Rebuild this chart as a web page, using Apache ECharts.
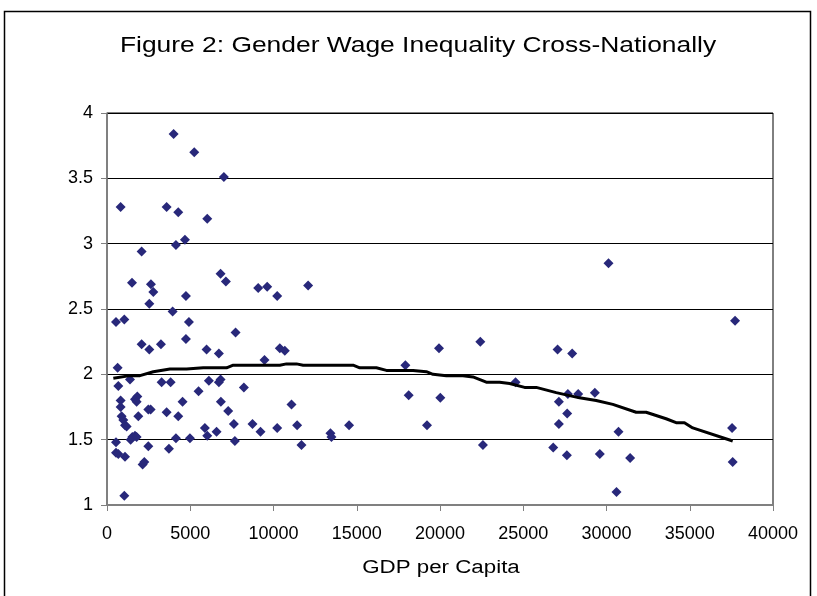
<!DOCTYPE html>
<html>
<head>
<meta charset="utf-8">
<script src="https://cdn.jsdelivr.net/npm/echarts@6/dist/echarts.min.js"></script>
<style>
  html, body { margin: 0; padding: 0; background: #fff; }
  #chart { width: 817px; height: 596px; }
</style>
</head>
<body>
<div id="chart"></div>
<script>
// GDP per capita and wage ratio per country
var gdp = [
  4000, 5240, 7020, 820, 3580, 4280, 6020, 2080, 4140, 4680,
  6820, 7140, 1500, 2640, 2780, 4740, 2540, 9080, 9620, 10220,
  3940, 540, 1040, 4920, 7720, 2080, 2540, 3240, 4740, 5980,
  6720, 9460, 10380, 10680, 640, 680, 1380, 3280, 3820, 5500,
  6120, 6720, 6820, 8220, 820, 820, 1680, 1820, 1780, 4540,
  6840, 7280, 2480, 2620, 3580, 4280, 880, 980, 1080, 1180,
  1880, 7620, 8740, 9220, 10220, 5880, 6020, 6580, 7680, 4980,
  4140, 1520, 1680, 1780, 1420, 2480, 3720, 540, 540, 680,
  1080, 2140, 2240, 1040, 12080, 11080, 11420, 11680, 13420, 13480,
  14540, 17920, 18120, 19220, 19940, 20020, 22420, 22580, 24540, 30120,
  27060, 27940, 37720, 27680, 28300, 29300, 27140, 27640, 27140, 30720,
  37540, 26800, 27620, 29600, 31420, 30600, 37580
];
var ratio = [
  3.84, 3.70, 3.51, 3.28, 3.28, 3.24, 3.19, 2.94, 2.99, 3.03,
  2.77, 2.71, 2.70, 2.69, 2.63, 2.60, 2.54, 2.66, 2.67, 2.60,
  2.48, 2.40, 2.42, 2.40, 2.32, 2.23, 2.19, 2.23, 2.27, 2.19,
  2.16, 2.11, 2.20, 2.18, 2.05, 1.91, 1.96, 1.94, 1.94, 1.87,
  1.95, 1.94, 1.96, 1.90, 1.80, 1.75, 1.81, 1.83, 1.79, 1.79,
  1.79, 1.72, 1.73, 1.73, 1.71, 1.68, 1.68, 1.65, 1.61, 1.60,
  1.68, 1.62, 1.62, 1.56, 1.59, 1.59, 1.53, 1.56, 1.49, 1.51,
  1.51, 1.52, 1.53, 1.52, 1.50, 1.45, 1.43, 1.48, 1.40, 1.39,
  1.37, 1.31, 1.33, 1.07, 2.68, 1.77, 1.61, 1.46, 1.55, 1.52,
  1.61, 2.07, 1.84, 1.61, 2.20, 1.82, 2.25, 1.46, 1.94, 2.85,
  2.19, 2.16, 2.41, 1.85, 1.85, 1.86, 1.79, 1.70, 1.62, 1.56,
  1.59, 1.44, 1.38, 1.39, 1.36, 1.10, 1.33
];

// moving-average trend line
var trendX = [
  380, 1380, 1980, 2780, 3780, 4780, 5780, 7180, 7580, 10380,
  10780, 11380, 11780, 14780, 15180, 16180, 16780, 18380, 19180, 19580,
  20380, 21380, 21980, 22780, 23580, 24180, 25080, 25780, 26980, 28380,
  29380, 30380, 31780, 32380, 33580, 34180, 34680, 35180, 37580
];
var trendY = [
  1.97, 1.99, 1.99, 2.02, 2.04, 2.04, 2.05, 2.05, 2.07, 2.07,
  2.08, 2.08, 2.07, 2.07, 2.05, 2.05, 2.03, 2.03, 2.02, 2.00,
  1.99, 1.99, 1.98, 1.94, 1.94, 1.93, 1.90, 1.90, 1.86, 1.82,
  1.80, 1.77, 1.71, 1.71, 1.66, 1.63, 1.63, 1.59, 1.49
];

var chart = echarts.init(document.getElementById('chart'));

var points = gdp.map(function (g, i) { return [g, ratio[i]]; });
var trend = trendX.map(function (g, i) { return [g, trendY[i]]; });

var font = 'Liberation Sans, Arial, sans-serif';

var option = {
  backgroundColor: '#fff',
  animation: false,
  graphic: [
    {
      type: 'rect',
      shape: { x: 4.5, y: 11.5, width: 806, height: 600 },
      style: { fill: null, stroke: '#000', lineWidth: 1.5 },
      silent: true
    },
    {
      // the original title is drawn a bit wider than the font
      type: 'text',
      x: 418,
      y: 46,
      scaleX: 1.2,
      style: {
        text: 'Figure 2: Gender Wage Inequality Cross-Nationally',
        font: '22px ' + font,
        fill: '#000',
        textAlign: 'center',
        textVerticalAlign: 'middle'
      },
      silent: true
    },
    {
      // x axis title, stretched the same way
      type: 'text',
      x: 441,
      y: 568,
      scaleX: 1.24,
      style: {
        text: 'GDP per Capita',
        font: '18px ' + font,
        fill: '#000',
        textAlign: 'center',
        textVerticalAlign: 'middle'
      },
      silent: true
    }
  ],
  grid: {
    left: 107, right: 44, top: 113, bottom: 91,
    show: true,
    borderColor: '#000',
    borderWidth: 1
  },
  xAxis: {
    type: 'value',
    min: 0, max: 40000, interval: 5000,
    axisLine: { show: true, onZero: false, lineStyle: { color: '#808080', width: 2 } },
    axisTick: { show: true, length: 6, lineStyle: { color: '#808080', width: 1 } },
    axisLabel: {
      fontFamily: font, fontSize: 18, color: '#000', margin: 20,
      formatter: function (v) { return String(v); }
    },
    splitLine: { show: false }
  },
  yAxis: {
    type: 'value',
    min: 1, max: 4, interval: 0.5,
    axisLine: { show: true, lineStyle: { color: '#808080', width: 1.5 } },
    axisTick: { show: true, length: 6, lineStyle: { color: '#808080', width: 1 } },
    axisLabel: { fontFamily: font, fontSize: 18, color: '#000', margin: 14 },
    splitLine: { show: true, lineStyle: { color: '#000', width: 1 } }
  },
  series: [
    {
      name: 'countries',
      type: 'scatter',
      data: points,
      symbol: 'diamond',
      symbolSize: 10,
      itemStyle: { color: '#28287a', opacity: 1 }
    },
    {
      name: 'trend',
      type: 'line',
      data: trend,
      showSymbol: false,
      symbol: 'none',
      lineStyle: { color: '#000', width: 3 },
      z: 3
    }
  ]
};

chart.setOption(option);
</script>
</body>
</html>
